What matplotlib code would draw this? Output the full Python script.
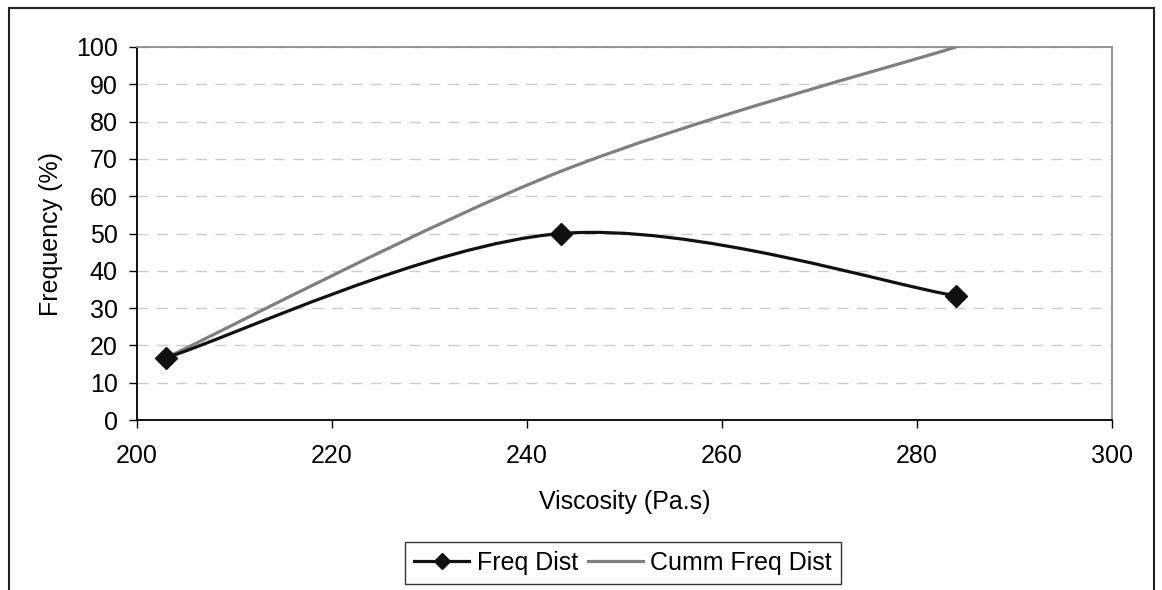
import numpy as np
import matplotlib
matplotlib.use("Agg")
import matplotlib.pyplot as plt
from matplotlib.path import Path
from matplotlib.patches import PathPatch, Rectangle
from matplotlib.lines import Line2D

# --> Data
viscosity = [203.0, 243.5, 284.0]
freq_dist = [16.7, 50.0, 33.3]
cumm_freq_dist = [16.7, 66.7, 100.0]

x_ticks = [200, 220, 240, 260, 280, 300]
y_ticks = [0, 10, 20, 30, 40, 50, 60, 70, 80, 90, 100]

plt.rcParams['font.family'] = ['Liberation Sans', 'DejaVu Sans']


def smooth_path(xs, ys):
    # --> Excel style smoothed line: cubic bezier through the points
    pts = np.column_stack([xs, ys])
    n = len(pts)
    verts = [pts[0]]
    codes = [Path.MOVETO]
    for i in range(n - 1):
        p_prev = pts[max(i - 1, 0)]
        p0 = pts[i]
        p1 = pts[i + 1]
        p_next = pts[min(i + 2, n - 1)]
        c1 = p0 + (p1 - p_prev) / 6.0
        c2 = p1 - (p_next - p0) / 6.0
        verts += [c1, c2, p1]
        codes += [Path.CURVE4] * 3
    return Path(verts, codes)


fig = plt.figure(figsize=(11.62, 5.90), dpi=100)
ax = fig.add_axes([137 / 1162, 1 - 420 / 590, (1112 - 137) / 1162, (420 - 47) / 590])

black = '#111111'
grey = '#7f7f7f'

ax.add_patch(PathPatch(smooth_path(viscosity, cumm_freq_dist), facecolor='none',
                       edgecolor=grey, lw=2.3, capstyle='round', zorder=3))
ax.add_patch(PathPatch(smooth_path(viscosity, freq_dist), facecolor='none',
                       edgecolor=black, lw=2.3, capstyle='round', zorder=4))
ax.plot(viscosity, freq_dist, linestyle='none', marker='D', markersize=11.5,
        color=black, zorder=5)

ax.set_xlim(200, 300)
ax.set_ylim(0, 100)
ax.set_xticks(x_ticks)
ax.set_yticks(y_ticks)
ax.tick_params(axis='both', labelsize=18, direction='out', length=6, width=1,
               color='black')
ax.tick_params(axis='x', pad=11)
ax.tick_params(axis='y', pad=8)

ax.yaxis.grid(True, color='#cccccc', linestyle=(0, (8, 6)), linewidth=1)
ax.set_axisbelow(True)

for side in ['top', 'right']:
    ax.spines[side].set_color('#8c8c8c')
    ax.spines[side].set_linewidth(1.3)
for side in ['left', 'bottom']:
    ax.spines[side].set_color('black')
    ax.spines[side].set_linewidth(1.3)

ax.set_xlabel('Viscosity (Pa.s)', fontsize=18, labelpad=16)
ax.set_ylabel('Frequency (%)', fontsize=18, labelpad=9)

# --> Legend below the plot
handles = [Line2D([], [], color=black, lw=2.3, marker='D', markersize=8.5),
           Line2D([], [], color=grey, lw=2.3)]
leg = fig.legend(handles, ['Freq Dist', 'Cumm Freq Dist'], loc='center',
                 bbox_to_anchor=(623 / 1162, 1 - 563 / 590), ncol=2, fontsize=18,
                 frameon=True, fancybox=False, edgecolor='black',
                 handlelength=2.2, handletextpad=0.3, columnspacing=0.4,
                 borderpad=0.35, borderaxespad=0)
leg.get_frame().set_linewidth(1.0)

# --> Outer chart border
fig.patches.append(Rectangle((9 / 1162, -0.05), (1154 - 9) / 1162, 1 - 8 / 590 + 0.05,
                             transform=fig.transFigure, fill=False,
                             edgecolor='#222222', lw=1.5))

fig.savefig('out.png', dpi=100)
